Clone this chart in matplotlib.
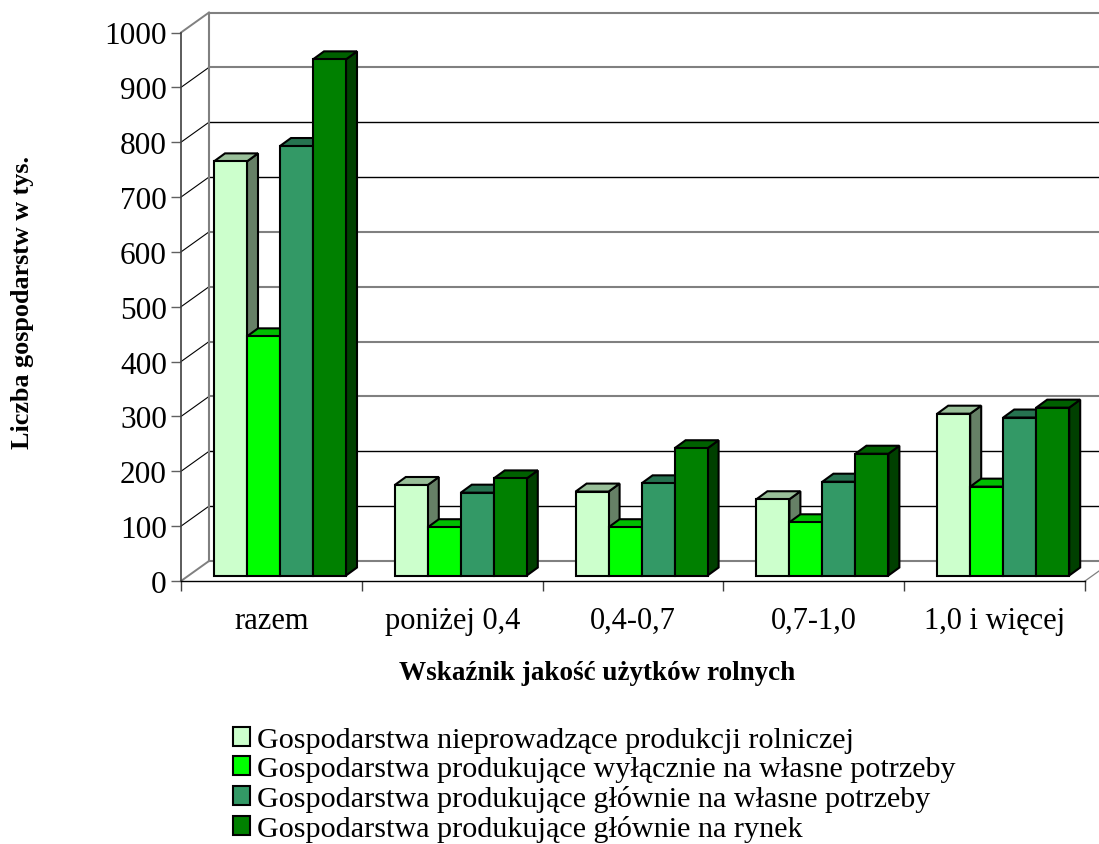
import matplotlib
matplotlib.use('Agg')
import matplotlib.pyplot as plt
from matplotlib.patches import Polygon

# Values
categories = ['razem', 'poniżej 0,4', '0,4-0,7', '0,7-1,0', '1,0 i więcej']
nieprowadzace = [755, 165, 153, 139, 295]
wylacznie = [436, 88, 88, 97, 162]
glownie_wlasne = [783, 151, 168, 171, 288]
glownie_rynek = [941, 177, 232, 222, 306]
y_ticks = [0, 100, 200, 300, 400, 500, 600, 700, 800, 900, 1000]
gray_grid = [0, 300, 400, 500, 600, 900, 1000]

series_labels = ['Gospodarstwa nieprowadzące produkcji rolniczej',
                 'Gospodarstwa produkujące wyłącznie na własne potrzeby',
                 'Gospodarstwa produkujące głównie na własne potrzeby',
                 'Gospodarstwa produkujące głównie na rynek']
front_colors = ['#CCFFCC', '#00FF00', '#339966', '#008000']
top_colors = ['#99BF99', '#00BF00', '#267350', '#006000']
side_colors = ['#668066', '#008000', '#1A4D33', '#004000']

W, H = 1099, 845
plt.rcParams['font.family'] = ['Liberation Serif', 'DejaVu Serif']

fig = plt.figure(figsize=(W / 100, H / 100), dpi=100)
left, right, top, bottom = 181, 1085, 33.5, 582
ax = fig.add_axes([left / W, 1 - bottom / H, (right - left) / W, (bottom - top) / H])
ax.set_xlim(0, 5)
ax.set_ylim(0, 1000)

# pixel sizes turned into data units
px_x = 5 / (right - left)
px_y = 1000 / (bottom - top)
wall_dx, wall_dy = 28 * px_x, 20 * px_y
bar_dx, bar_dy = 11 * px_x, 8 * px_y
shift_x, shift_y = 8.5 * px_x, 5.5 * px_y
bar_w = 33 * px_x
margin = 24.5 * px_x

# walls and grid
for v in y_ticks:
    col = '#808080' if v in gray_grid else 'black'
    ax.plot([wall_dx, 5 + wall_dx], [v + wall_dy, v + wall_dy], color=col,
            lw=1.5 if v in gray_grid else 1.0, clip_on=False, zorder=1)
    ax.plot([0, wall_dx], [v, v + wall_dy], color='#808080' if v in (0, 1000) else 'black',
            lw=1.4 if v in (0, 1000) else 0.8, clip_on=False, zorder=1)
ax.plot([wall_dx, wall_dx], [wall_dy, 1000 + wall_dy], color='#808080', lw=1.5,
        clip_on=False, zorder=1)
ax.plot([5, 5 + wall_dx], [0, wall_dy], color='#808080', lw=0.9, clip_on=False, zorder=1)

# bars, back to front from left to right
series = [nieprowadzace, wylacznie, glownie_wlasne, glownie_rynek]
handles = []
z = 3
for c in range(len(categories)):
    for s, values in enumerate(series):
        x0 = c + margin + shift_x + s * bar_w
        x1 = x0 + bar_w
        y0 = shift_y
        y1 = values[c] + shift_y
        ax.add_patch(Polygon([(x1, y0), (x1 + bar_dx, y0 + bar_dy), (x1 + bar_dx, y1 + bar_dy), (x1, y1)],
                             fc=side_colors[s], ec='black', lw=1.5, clip_on=False, zorder=z))
        ax.add_patch(Polygon([(x0, y1), (x0 + bar_dx, y1 + bar_dy), (x1 + bar_dx, y1 + bar_dy), (x1, y1)],
                             fc=top_colors[s], ec='black', lw=1.5, clip_on=False, zorder=z))
        b = ax.bar(x0, values[c], width=bar_w, bottom=y0, align='edge', color=front_colors[s],
                   edgecolor='black', lw=1.5, clip_on=False, zorder=z + 1)
        if c == 0:
            b[0].set_label(series_labels[s])
            handles.append(b[0])
        z += 2

for name in ['top', 'right']:
    ax.spines[name].set_visible(False)
ax.spines['left'].set_color('#404040')
ax.spines['left'].set_linewidth(1.2)
ax.spines['bottom'].set_linewidth(1.0)
ax.spines['left'].set_zorder(50)
ax.spines['bottom'].set_zorder(50)

ax.set_yticks(y_ticks)
ax.tick_params(axis='y', labelsize=22.5, length=7.2, width=1.0, color='#606060', pad=3)
ax.set_xticks(range(6))
ax.set_xticklabels([])
ax.set_xticks([i + 0.5 for i in range(5)], categories, minor=True)
ax.tick_params(axis='x', which='major', length=7.2, width=1.0, color='#404040')
ax.tick_params(axis='x', which='minor', length=0, labelsize=22, pad=18)

fig.text(597 / W, 1 - 674 / H, 'Wskaźnik jakość użytków rolnych', fontsize=19.5,
         fontweight='bold', ha='center', va='center')
fig.text(23 / W, 1 - 303 / H, 'Liczba gospodarstw w tys.', fontsize=18.8,
         fontweight='bold', ha='center', va='center', rotation=90)

fig.legend(handles=handles, loc='upper left', bbox_to_anchor=(233 / W, 1 - 728 / H),
           frameon=False, fontsize=21.7, borderpad=0, borderaxespad=0, labelspacing=0.1,
           handlelength=0.56, handleheight=0.56, handletextpad=0.23)

fig.savefig('out.png', dpi=100)
